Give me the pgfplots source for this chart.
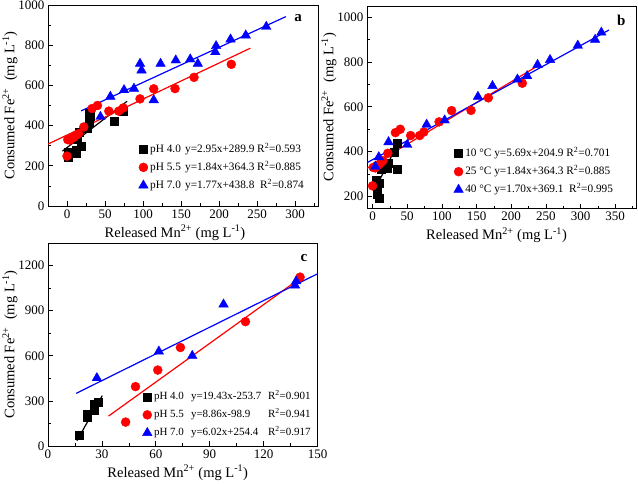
\documentclass[border=0pt]{standalone}
\usepackage{fontspec}
\setmainfont{Liberation Serif}
\usepackage{pgfplots}
\pgfplotsset{compat=1.18}
\pgfplotsset{
 panel/.style={
  scale only axis,
  axis line style={line width=0.8pt},
  tick align=inside,
  xtick pos=bottom, ytick pos=left,
  major tick length=4.5pt, minor tick length=2.5pt,
  tick style={line width=0.7pt, black},
  /pgf/number format/assume math mode=true,
  /pgf/number format/1000 sep={},
  tick label style={font=\fontsize{13}{15}\selectfont},
  label style={font=\fontsize{14.5}{16}\selectfont},
  ylabel shift=-6pt,
  legend style={draw=none, fill=none, font=\fontsize{11.3}{13}\selectfont, inner sep=0pt, row sep=3pt, anchor=north west,
    nodes={text height=8.5pt, text depth=2.5pt, inner sep=2pt}},
  legend cell align=left,
  xlabel={Released Mn\textsuperscript{2+} (mg L\textsuperscript{-1})},
  ylabel={Consumed Fe\textsuperscript{2+}\ \ (mg L\textsuperscript{-1})},
 },
 blk/.style={only marks, mark=square*, mark size=4pt, black},
 rd/.style={only marks, mark=*, mark size=4.5pt, red},
 bl/.style={only marks, mark=triangle*, mark size=5.5pt, blue},
 fk/.style={black, line width=1.2pt, no marks, forget plot},
 fr/.style={red, line width=1.2pt, no marks, forget plot},
 fb/.style={blue, line width=1.2pt, no marks, forget plot},
}
\begin{document}
\begin{tikzpicture}
\useasboundingbox (0,0) rectangle (638pt,484pt);
% ---------------- panel a ----------------
\begin{axis}[panel, at={(48pt,278pt)}, anchor=south west, width=270pt, height=201pt,
  xmin=-25, xmax=330, ymin=0, ymax=1000,
  xtick={0,50,...,300}, minor xtick={-25,25,75,...,325},
  ytick={0,200,...,1000}, minor ytick={100,300,...,900},
  xlabel style={xshift=-8pt},
  legend style={at={(axis description cs:0.335,0.320)}}]
\addplot[fk] coordinates {(-6,273) (79,521)};
\addplot[fr] coordinates {(-25,308) (241,785)};
\addplot[fb] coordinates {(18.5,473) (287.6,942)};
\addplot[blk] coordinates {(2,245) (2,270) (12,262) (12,278) (14,330) (16,365) (18,297) (27,386) (29,415) (29,463) (30,448) (62,421) (74,472)};
\addlegendentry{\makebox[35pt][l]{pH 4.0}y=2.95x+289.9 R\textsuperscript{2}=0.593}
\addplot[rd] coordinates {(0,248) (1,330) (4,328) (6,338) (9,342) (12,352) (15,360) (22,393) (33,485) (40,500) (55,472) (68,472) (74,488) (96,533) (114,583) (142,584) (167,640) (216,705)};
\addlegendentry{\makebox[35pt][l]{pH 5.5}y=1.84x+364.3 R\textsuperscript{2}=0.885}
\addplot[bl] coordinates {(44,444) (57,544) (75,577) (88,584) (96,708) (98,675) (114,527) (123,708) (143,725) (162,730) (172,708) (195,766) (196,796) (215,829) (235,849) (262,892) (321,1005)};
\addlegendentry{\makebox[35pt][l]{pH 7.0}y=1.77x+438.8\ \ R\textsuperscript{2}=0.874}
\node[font=\bfseries\fontsize{15}{17}\selectfont] at (rel axis cs:0.926,0.935) {a};
\end{axis}
% ---------------- panel b ----------------
\begin{axis}[panel, at={(367pt,275.7pt)}, anchor=south west, width=269pt, height=202.3pt,
  xmin=-8, xmax=380, ymin=148, ymax=1049,
  xtick={0,50,...,350}, minor xtick={25,75,...,375},
  ytick={200,400,...,1000}, minor ytick={300,500,...,900},
  xlabel style={xshift=-5pt},
  legend style={at={(axis description cs:0.322,0.308)}}]
\addplot[fk] coordinates {(4,235) (37,440)};
\addplot[fr] coordinates {(-8,326) (238,782)};
\addplot[fb] coordinates {(-8,351) (341,942)};
\addplot[blk] coordinates {(5,272) (6,252) (7,210) (9,195) (10,258) (13,322) (17,325) (21,325) (23,350) (31,400) (36,440) (36,322)};
\addlegendentry{\makebox[29pt][l]{10 °C}y=5.69x+204.9 R\textsuperscript{2}=0.701}
\addplot[rd] coordinates {(0,248) (1,330) (4,328) (6,338) (9,342) (12,352) (15,360) (22,393) (33,485) (40,500) (55,472) (68,472) (74,488) (96,533) (114,583) (142,584) (167,640) (216,705)};
\addlegendentry{\makebox[29pt][l]{25 °C}y=1.84x+364.3 R\textsuperscript{2}=0.885}
\addplot[bl] coordinates {(4,334) (9,376) (23,443) (50,431) (78,521) (104,540) (152,645) (173,693) (209,722) (223,737) (238,787) (256,809) (296,873) (321,899) (330,931)};
\addlegendentry{\makebox[29pt][l]{40 °C}y=1.70x+369.1\ \ R\textsuperscript{2}=0.995}
\node[font=\bfseries\fontsize{15}{17}\selectfont] at (rel axis cs:0.945,0.931) {b};
\end{axis}
% ---------------- panel c ----------------
\begin{axis}[panel, at={(48pt,38pt)}, anchor=south west, width=269.5pt, height=203pt,
  xmin=0, xmax=150, ymin=0, ymax=1350,
  xtick={0,30,...,150}, minor xtick={15,45,...,135},
  ytick={0,300,...,1200}, minor ytick={150,450,...,1350},
  xlabel style={xshift=-5pt},
  legend style={at={(axis description cs:0.350,0.280)}, font=\fontsize{11}{13}\selectfont}]
\addplot[fk] coordinates {(16.1,35) (30.2,335)};
\addplot[fr] coordinates {(33.7,199) (140,1112)};
\addplot[fb] coordinates {(15.7,350) (150,1145)};
\addplot[blk] coordinates {(17.4,71) (21.6,192) (21.6,214) (25.7,240) (25.7,276) (28.1,291)};
\addlegendentry{\makebox[37pt][l]{pH 4.0}\makebox[77pt][l]{y=19.43x-253.7}R\textsuperscript{2}=0.901}
\addplot[rd] coordinates {(43.2,159) (48.7,395) (61.1,505) (73.7,655) (109.9,827) (140.3,1123)};
\addlegendentry{\makebox[37pt][l]{pH 5.5}\makebox[77pt][l]{y=8.86x-98.9}R\textsuperscript{2}=0.941}
\addplot[bl] coordinates {(27.2,452) (61.7,629) (80.3,600) (97.7,942) (137.5,1068) (138.1,1096)};
\addlegendentry{\makebox[37pt][l]{pH 7.0}\makebox[77pt][l]{y=6.02x+254.4}R\textsuperscript{2}=0.917}
\node[font=\bfseries\fontsize{15}{17}\selectfont] at (rel axis cs:0.95,0.926) {c};
\end{axis}
\end{tikzpicture}
\end{document}
